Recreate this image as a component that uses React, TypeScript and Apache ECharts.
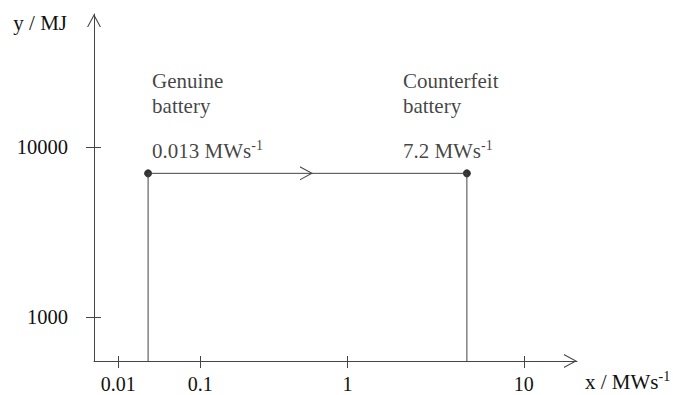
import React, { useEffect, useRef } from 'react';
import * as echarts from 'echarts';

// The x axis of the original is a schematic (not to scale): ticks and points
// are placed along a 0–100 schematic axis.
const xRange = [0, 100];
const xTickLabels = ['0.01', '0.1', '1', '10'];
const xTickPositions = [5, 22, 52.5, 89];

// y axis: energy in MJ on a logarithmic scale
const yRangeMJ = [551, 60600];
const yTickValues = [1000, 10000];

// the two batteries
const pointNames = ['Genuine', 'Counterfeit'];
const pointRates = ['0.013', '7.2']; // MWs^-1
const pointPositions = [11.2, 77.2];
const pointEnergyMJ = [7000, 7000];

const FONT = '"Liberation Serif", "Times New Roman", serif';
const TEXT = '#111111';
const LINE = '#444444';

const upChevron = 'path://M0,130L70,0L140,130L128,130L70,22.3L12,130Z';
const rightChevron = 'path://M0,0L130,70L0,140L0,128L108,70L0,12Z';

export default function App() {
  const ref = useRef<HTMLDivElement>(null);

  useEffect(() => {
    if (!ref.current) return;
    const chart = echarts.init(ref.current, null, { renderer: 'svg' });
    const lg = (v: number) => Math.log10(v);
    const yMin = lg(yRangeMJ[0]);
    const yMax = lg(yRangeMJ[1]);
    const yTicks = yTickValues.map(lg);

    const pts = pointPositions.map((x, i) => [x, lg(pointEnergyMJ[i])]);
    const frame = [
      [pts[0][0], yMin],
      pts[0],
      pts[1],
      [pts[1][0], yMin],
    ];
    const mid = [(pts[0][0] + pts[1][0]) / 2, (pts[0][1] + pts[1][1]) / 2];

    const labelOffsetX = [4, -64];

    const rich = {
      t: { fontFamily: FONT, fontSize: 21, lineHeight: 25, color: TEXT },
      g: { fontFamily: FONT, fontSize: 10, lineHeight: 20, color: TEXT },
      s: { fontFamily: FONT, fontSize: 14, lineHeight: 16, verticalAlign: 'top', color: TEXT },
    };

    const xFmt = (v: number) => {
      const i = xTickPositions.findIndex((p) => Math.abs(p - v) < 1e-6);
      return i >= 0 ? xTickLabels[i] : '';
    };
    const yFmt = (v: number) => {
      const i = yTicks.findIndex((p) => Math.abs(p - v) < 1e-6);
      return i >= 0 ? String(yTickValues[i]) : '';
    };

    const axisLineBase = {
      show: true,
      onZero: false,
      lineStyle: { color: LINE, width: 1 },
      symbol: ['none', upChevron],
      symbolSize: [14, 13],
      symbolOffset: [0, -6.5],
    };

    const option: any = {
      animation: false,
      backgroundColor: '#ffffff',
      grid: {
        left: 94,
        right: 96,
        top: 14,
        bottom: 34,
        containLabel: false,
        outerBoundsMode: 'none',
      },
      xAxis: [
        {
          type: 'value',
          position: 'bottom',
          min: xRange[0],
          max: xRange[1],
          axisLine: axisLineBase,
          splitLine: { show: false },
          axisTick: {
            show: true,
            length: 7,
            customValues: xTickPositions,
            lineStyle: { color: LINE, width: 1 },
          },
          axisLabel: {
            customValues: xTickPositions,
            formatter: xFmt,
            margin: 15,
            fontFamily: FONT,
            fontSize: 20,
            lineHeight: 16,
            color: TEXT,
          },
          name: '{t|x / MWs}{s|-1}',
          nameLocation: 'end',
          nameGap: 8,
          nameTextStyle: {
            align: 'left',
            verticalAlign: 'top',
            padding: [8, 0, 0, 0],
            fontFamily: FONT,
            fontSize: 21,
            color: TEXT,
            rich,
          },
        },
        {
          type: 'value',
          position: 'bottom',
          min: xRange[0],
          max: xRange[1],
          axisLine: { show: false, onZero: false },
          splitLine: { show: false },
          axisTick: {
            show: true,
            inside: true,
            length: 5,
            customValues: xTickPositions,
            lineStyle: { color: LINE, width: 1 },
          },
          axisLabel: { show: false },
        },
      ],
      yAxis: [
        {
          type: 'value',
          position: 'left',
          min: yMin,
          max: yMax,
          axisLine: axisLineBase,
          splitLine: { show: false },
          axisTick: {
            show: true,
            length: 8,
            customValues: yTicks,
            lineStyle: { color: LINE, width: 1 },
          },
          axisLabel: {
            customValues: yTicks,
            formatter: yFmt,
            margin: 26,
            fontFamily: FONT,
            fontSize: 20.5,
            color: TEXT,
          },
          name: 'y / MJ',
          nameLocation: 'end',
          nameGap: -9,
          nameTextStyle: {
            align: 'right',
            verticalAlign: 'middle',
            padding: [0, 27, 0, 0],
            fontFamily: FONT,
            fontSize: 21,
            color: TEXT,
          },
        },
        {
          type: 'value',
          position: 'left',
          min: yMin,
          max: yMax,
          axisLine: { show: false, onZero: false },
          splitLine: { show: false },
          axisTick: {
            show: true,
            inside: true,
            length: 7,
            customValues: yTicks,
            lineStyle: { color: LINE, width: 1 },
          },
          axisLabel: { show: false },
        },
      ],
      series: [
        {
          type: 'line',
          data: frame,
          showSymbol: false,
          symbol: 'none',
          silent: true,
          lineStyle: { color: LINE, width: 1 },
          markPoint: {
            silent: true,
            symbol: rightChevron,
            symbolSize: [13, 14],
            symbolOffset: [-1, 0],
            itemStyle: { color: LINE },
            label: { show: false },
            data: [{ coord: mid }],
          },
        },
        {
          type: 'scatter',
          symbol: 'circle',
          symbolSize: 8,
          silent: true,
          itemStyle: { color: '#000000' },
          data: pts.map((p, i) => ({
            value: p,
            label: {
              show: true,
              position: 'top',
              distance: 0,
              align: 'left',
              verticalAlign: 'bottom',
              offset: [labelOffsetX[i], -6],
              formatter: `{t|${pointNames[i]}}\n{t|battery}\n{g| }\n{t|${pointRates[i]} MWs}{s|-1}`,
              rich,
            },
          })),
        },
      ],
    };

    chart.setOption(option);
    return () => chart.dispose();
  }, []);

  return (
    <div
      ref={ref}
      style={{ position: 'fixed', left: 0, top: 0, width: 673, height: 395, background: '#fff' }}
    />
  );
}
